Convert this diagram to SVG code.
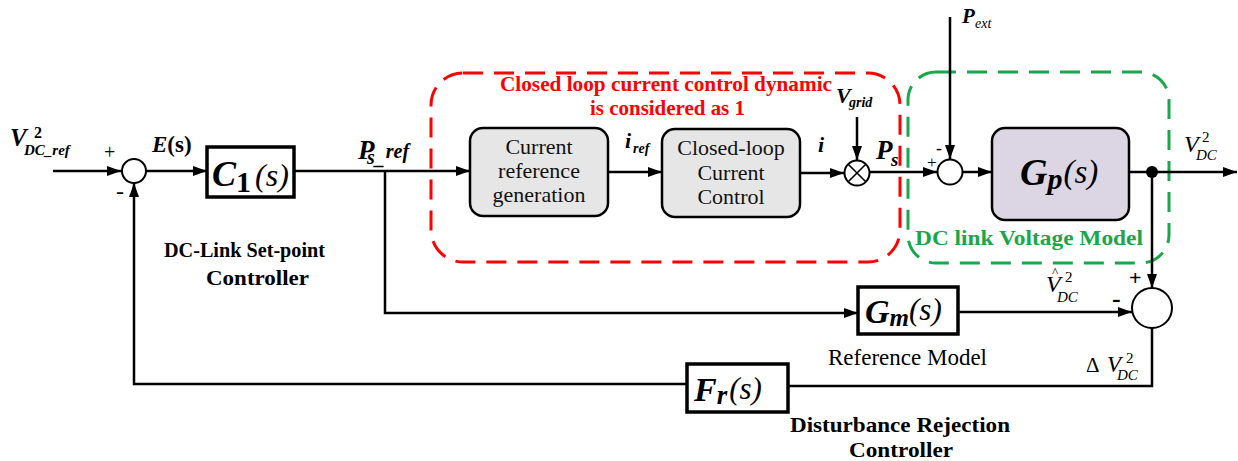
<svg xmlns="http://www.w3.org/2000/svg" width="1238" height="461" viewBox="0 0 1238 461">
  <style>
    .wire { fill: none; stroke: #000; stroke-width: 2.5; }
    .sum { fill: #fff; stroke: #000; stroke-width: 2; }
    .blk { fill: #fff; stroke: #000; stroke-width: 3.5; }
    .rblk { fill: #e6e6e6; stroke: #000; stroke-width: 2.5; }
    .serif { font-family: "Liberation Serif", "Times New Roman", serif; }
    .bi { font-family: "Liberation Serif", serif; font-weight: bold; font-style: italic; }
    .it { font-family: "Liberation Serif", serif; font-style: italic; }
    .b { font-family: "Liberation Serif", serif; font-weight: bold; }
    .boxtxt { font-family: "Liberation Serif", serif; font-size: 22px; text-anchor: middle; fill: #111; }
    .cap { font-family: "Liberation Serif", serif; font-weight: bold; font-size: 21px; }
  </style>
  <defs>
    <marker id="arr" viewBox="0 0 14 10" refX="14" refY="5" markerWidth="14" markerHeight="10" orient="auto" markerUnits="userSpaceOnUse">
      <path d="M0,0 L14,5 L0,10 z" fill="#000"/>
    </marker>
  </defs>
  <rect width="1238" height="461" fill="#fff"/>

  <!-- dashed grouping regions -->
  <g id="current-loop-region">
    <rect x="431" y="73" width="469" height="189" rx="32" fill="none" stroke="#ff0000" stroke-width="3" stroke-dasharray="20 11"/>
    <text class="b" font-size="21" fill="#ff0000" x="500" y="91" textLength="332" lengthAdjust="spacingAndGlyphs">Closed loop current control dynamic</text>
    <text class="b" font-size="21" fill="#ff0000" x="590" y="115" textLength="155" lengthAdjust="spacingAndGlyphs">is considered as 1</text>
  </g>
  <g id="dc-link-region">
    <rect x="908" y="72" width="261" height="191" rx="28" fill="none" stroke="#1aa64a" stroke-width="3" stroke-dasharray="20 11"/>
    <text class="b" font-size="21" fill="#1aa64a" x="915" y="245" textLength="228" lengthAdjust="spacingAndGlyphs">DC link Voltage Model</text>
  </g>

  <!-- connectors -->
  <g id="connectors">
    <path class="wire" d="M53,171 H121" marker-end="url(#arr)"/>
    <path class="wire" d="M146,171 H207" marker-end="url(#arr)"/>
    <path class="wire" d="M294,171 H470" marker-end="url(#arr)"/>
    <path class="wire" d="M385,171 V313 H858" marker-end="url(#arr)"/>
    <path class="wire" d="M608,172 H662" marker-end="url(#arr)"/>
    <path class="wire" d="M800,173 H844" marker-end="url(#arr)"/>
    <path class="wire" d="M857,117 V160" marker-end="url(#arr)"/>
    <path class="wire" d="M870,172 H937" marker-end="url(#arr)"/>
    <path class="wire" d="M950,17 V159" marker-end="url(#arr)"/>
    <path class="wire" d="M963,172 H992" marker-end="url(#arr)"/>
    <path class="wire" d="M1129,172 H1237" marker-end="url(#arr)"/>
    <path class="wire" d="M1152,172 V288" marker-end="url(#arr)"/>
    <path class="wire" d="M958,312 H1132" marker-end="url(#arr)"/>
    <path class="wire" d="M1152,328 V386 H788"/>
    <path class="wire" d="M687,384 H134 V183" marker-end="url(#arr)"/>
    <circle cx="1152" cy="172" r="6" fill="#000"/>
  </g>

  <!-- input summing junction -->
  <g id="sum-error">
    <circle class="sum" cx="134" cy="171" r="12"/>
    <text class="serif" font-size="20" x="104" y="159">+</text>
    <text class="serif" font-size="24" x="116" y="199">-</text>
  </g>

  <g id="input-label">
    <text class="bi" font-size="25" x="10" y="146">V</text>
    <text class="b" font-size="16" x="34" y="138">2</text>
    <text class="bi" font-size="15" x="24" y="155">DC_ref</text>
    <text x="152" y="152" font-size="23"><tspan class="bi">E</tspan><tspan class="b">(s)</tspan></text>
  </g>

  <g id="c1-block">
    <rect class="blk" x="207" y="147" width="87" height="50"/>
    <text x="212" y="186" class="serif"><tspan class="bi" font-size="36">C</tspan><tspan class="b" font-size="30" dy="6">1</tspan><tspan class="it" font-size="32" dy="-6" dx="4">(s)</tspan></text>
    <text class="cap" x="164" y="257" textLength="161" lengthAdjust="spacingAndGlyphs">DC-Link Set-point</text>
    <text class="cap" x="206" y="285" textLength="103" lengthAdjust="spacingAndGlyphs">Controller</text>
  </g>

  <g id="ps-ref-label">
    <text class="bi" font-size="27" x="358" y="159">P</text>
    <text class="bi" font-size="20" x="367" y="164">s_<tspan dx="1" dy="-6">ref</tspan></text>
  </g>

  <g id="current-reference-generation">
    <rect class="rblk" x="470" y="128" width="138" height="88" rx="13"/>
    <text class="boxtxt" x="539" y="154">Current</text>
    <text class="boxtxt" x="539" y="178">reference</text>
    <text class="boxtxt" x="539" y="202">generation</text>
  </g>

  <g id="iref-label">
    <text class="bi" font-size="22" x="625" y="148">i</text>
    <text class="bi" font-size="14" x="633" y="153">ref</text>
  </g>

  <g id="closed-loop-current-control">
    <rect class="rblk" x="662" y="129" width="138" height="88" rx="13"/>
    <text class="boxtxt" x="731" y="155">Closed-loop</text>
    <text class="boxtxt" x="731" y="180">Current</text>
    <text class="boxtxt" x="731" y="204">Control</text>
  </g>

  <g id="i-label">
    <text class="bi" font-size="22" x="818" y="152">i</text>
  </g>

  <g id="multiplier">
    <circle class="sum" cx="857" cy="173" r="12.5"/>
    <path d="M848.2,164.2 L865.8,181.8 M865.8,164.2 L848.2,181.8" stroke="#000" stroke-width="1.6"/>
    <text class="bi" font-size="22" x="836" y="103">V</text>
    <text class="bi" font-size="14" x="849" y="107">grid</text>
  </g>

  <g id="ps-label">
    <text class="bi" font-size="27" x="876" y="159">P</text>
    <text class="bi" font-size="19" x="891" y="166">s</text>
  </g>

  <g id="sum-power">
    <circle class="sum" cx="950" cy="172" r="12.5"/>
    <text class="serif" font-size="17" x="927" y="168">+</text>
    <text class="serif" font-size="18" x="936" y="154">-</text>
    <text class="bi" font-size="21" x="962" y="23">P</text>
    <text class="it" font-size="14" x="975" y="28">ext</text>
  </g>

  <g id="gp-block">
    <rect x="992" y="128" width="137" height="92" rx="13" fill="#dcd6e4" stroke="#000" stroke-width="2.5"/>
    <text x="1020" y="185"><tspan class="bi" font-size="38">G</tspan><tspan class="bi" font-size="30" dy="4">p</tspan><tspan class="it" font-size="33" dy="-6" dx="1">(s)</tspan></text>
  </g>

  <g id="output-label">
    <text class="it" font-size="24" x="1184" y="152">V</text>
    <text class="serif" font-size="15" x="1202" y="142">2</text>
    <text class="it" font-size="15" x="1196" y="160">DC</text>
  </g>

  <g id="gm-block">
    <rect class="blk" x="858" y="287" width="100" height="47"/>
    <text x="865" y="323"><tspan class="bi" font-size="34">G</tspan><tspan class="bi" font-size="25" dy="3">m</tspan><tspan class="it" font-size="31" dy="-6">(s)</tspan></text>
    <text class="serif" font-size="23" x="828" y="365" textLength="159" lengthAdjust="spacingAndGlyphs">Reference Model</text>
  </g>

  <g id="vhat-label">
    <text class="it" font-size="24" x="1046" y="292">V</text>
    <text class="serif" font-size="13" x="1052" y="276">^</text>
    <text class="serif" font-size="15" x="1065" y="282">2</text>
    <text class="it" font-size="15" x="1057" y="302">DC</text>
  </g>

  <g id="sum-error-model">
    <circle class="sum" cx="1152" cy="308" r="20" stroke-width="2.5"/>
    <text class="b" font-size="22" x="1129" y="285">+</text>
    <text class="b" font-size="26" x="1112" y="307">-</text>
    <text class="serif" font-size="21" x="1086" y="372">Δ</text>
    <text class="it" font-size="23" x="1107" y="372">V</text>
    <text class="serif" font-size="15" x="1126" y="363">2</text>
    <text class="it" font-size="15" x="1117" y="380">DC</text>
  </g>

  <g id="fr-block">
    <rect class="blk" x="687" y="364" width="101" height="48"/>
    <text x="694" y="401"><tspan class="bi" font-size="34">F</tspan><tspan class="bi" font-size="27" dy="3">r</tspan><tspan class="it" font-size="31" dy="-5" dx="2">(s)</tspan></text>
    <text class="cap" font-size="23" x="790" y="432" textLength="220" lengthAdjust="spacingAndGlyphs">Disturbance Rejection</text>
    <text class="cap" font-size="23" x="849" y="457" textLength="104" lengthAdjust="spacingAndGlyphs">Controller</text>
  </g>
</svg>
